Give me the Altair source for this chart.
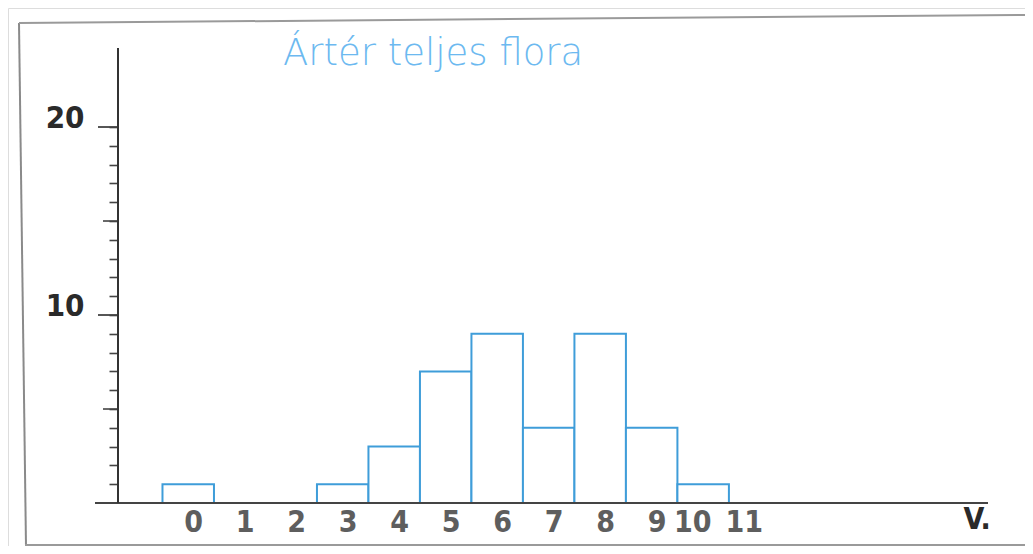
import altair as alt
import pandas as pd

# ---- data ----
classes = [0, 1, 2, 3, 4, 5, 6, 7, 8, 9, 10, 11]
counts = [1, 0, 0, 1, 3, 7, 9, 4, 9, 4, 1, 0]
y_ticks = list(range(1, 21))
long_ticks = [10, 20]
mid_ticks = [5, 15]
title_text = ["Ártér teljes flora"]
x_title = "V."

bars_df = pd.DataFrame({"v": classes, "count": counts})
long_df = pd.DataFrame({"t": long_ticks})
mid_df = pd.DataFrame({"t": mid_ticks})
title_df = pd.DataFrame({"label": title_text})
zero_row = pd.DataFrame({"t": [0]})
one_row = pd.DataFrame({"a": [0]})

BAR_BLUE = "#3f9dd9"
TITLE_BLUE = "#6cb9f0"
NARROW = "Liberation Sans Narrow, DejaVu Sans Condensed, Arial Narrow, sans-serif"

xscale = alt.Scale(domain=[-3.5, 16.25], nice=False, zero=False)
yscale = alt.Scale(domain=[-2.287, 26.33], nice=False, zero=False)

x_axis = alt.Axis(
    values=classes,
    domain=False,
    ticks=False,
    grid=False,
    offset=-43,
    labelFont=NARROW,
    labelFontSize=30,
    labelFontWeight="bold",
    labelColor="#5e5e5e",
    labelPadding=4,
    labelFlush=False,
    labelOverlap=False,
    labelOffset={"condition": {"test": "datum.value >= 10", "value": -11}, "value": 5},
    title=x_title,
    titleFont=NARROW,
    titleFontSize=30,
    titleFontWeight="bold",
    titleColor="#2a2a2a",
    titleAnchor="start",
    titleAlign="left",
    titleBaseline="alphabetic",
    titleX=955,
    titleY=25,
)

y_axis = alt.Axis(
    values=y_ticks,
    domain=False,
    grid=False,
    offset=-110,
    tickColor="#444444",
    tickWidth=1.6,
    tickSize=9,
    labelExpr="datum.value % 10 === 0 ? datum.label : ''",
    labelFont=NARROW,
    labelFontSize=31,
    labelFontWeight="bold",
    labelColor="#2a2a2a",
    labelBaseline="alphabetic",
    labelPadding=25,
    labelOverlap=False,
    title="",
)

bars = (
    alt.Chart(bars_df)
    .transform_filter("datum.count > 0")
    .transform_calculate(x0="datum.v - 0.5", x1="datum.v + 0.5")
    .mark_rect(fill="white", stroke=BAR_BLUE, strokeWidth=2)
    .encode(
        x=alt.X("x0:Q", scale=xscale, axis=x_axis),
        x2="x1:Q",
        y=alt.Y("count:Q", scale=yscale, axis=y_axis),
        y2=alt.datum(0),
    )
)

long_tick_marks = (
    alt.Chart(long_df)
    .mark_rule(color="#444444", strokeWidth=1.8)
    .encode(x=alt.value(90), x2=alt.value(110), y=alt.Y("t:Q", scale=yscale, axis=None))
)
mid_tick_marks = (
    alt.Chart(mid_df)
    .mark_rule(color="#444444", strokeWidth=1.6)
    .encode(x=alt.value(95), x2=alt.value(110), y=alt.Y("t:Q", scale=yscale, axis=None))
)

base_line = (
    alt.Chart(zero_row)
    .mark_rule(color="#444444", strokeWidth=2)
    .encode(x=alt.value(87), x2=alt.value(980), y=alt.Y("t:Q", scale=yscale, axis=None))
)

y_line = (
    alt.Chart(zero_row)
    .mark_rule(color="#333333", strokeWidth=2)
    .encode(x=alt.value(110), y=alt.Y("t:Q", scale=yscale, axis=None), y2=alt.value(40))
)

title_mark = (
    alt.Chart(title_df)
    .mark_text(
        align="left",
        baseline="alphabetic",
        font="DejaVu Sans, Open Sans, sans-serif",
        fontSize=37,
        fontWeight=300,
        color=TITLE_BLUE,
    )
    .encode(x=alt.value(275), y=alt.value(57), text="label:N")
)

# page frame of the scanned figure (slightly skewed)
frame_left = (
    alt.Chart(one_row)
    .mark_rule(color="#8a8a8a", strokeWidth=2)
    .encode(x=alt.value(11), y=alt.value(15), x2=alt.value(18), y2=alt.value(538))
)
frame_top = (
    alt.Chart(one_row)
    .mark_rule(color="#9a9a9a", strokeWidth=2)
    .encode(x=alt.value(11), y=alt.value(15), x2=alt.value(1017), y2=alt.value(7))
)
frame_bottom = (
    alt.Chart(one_row)
    .mark_rule(color="#9a9a9a", strokeWidth=2)
    .encode(x=alt.value(17), x2=alt.value(1017), y=alt.value(537))
)

chart = (
    alt.layer(
        bars, frame_left, frame_top, frame_bottom,
        long_tick_marks, mid_tick_marks, base_line, y_line, title_mark,
    )
    .resolve_axis(x="independent", y="independent")
    .properties(
        width=1017,
        height=538,
        padding=0,
        autosize=alt.AutoSizeParams(type="none"),
    )
    .configure_view(stroke="transparent", strokeWidth=0)
    .configure(background="white")
)

chart.save("out.html", embed_options={"renderer": "svg", "actions": False})
